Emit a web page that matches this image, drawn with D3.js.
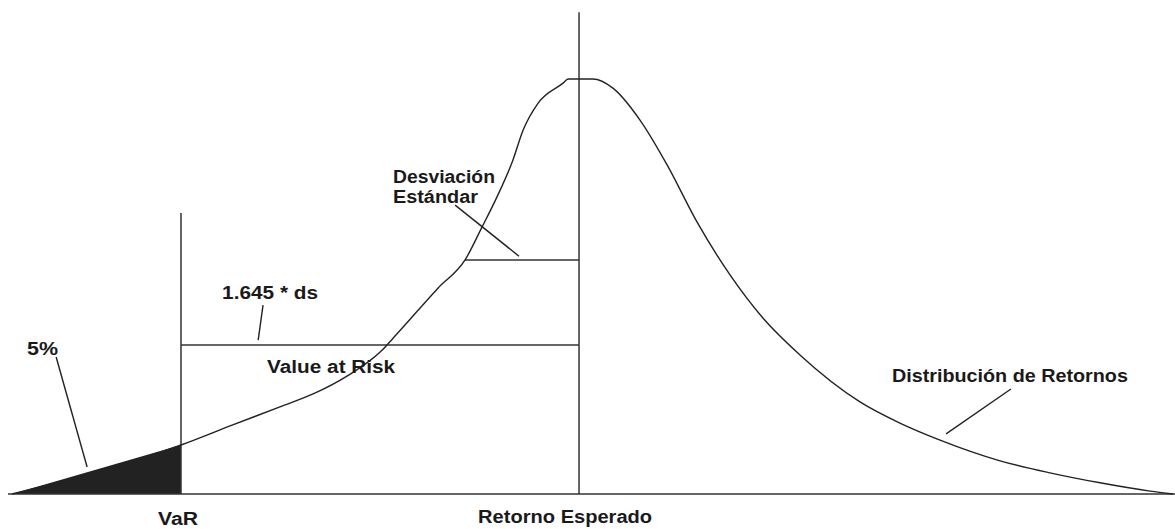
<!DOCTYPE html>
<meta charset="utf-8">
<script src="https://cdn.jsdelivr.net/npm/d3@7/dist/d3.min.js"></script>
<style>
body { margin: 0; background: #fff; }
svg { display: block; }
.curve { fill: none; stroke: #222; stroke-width: 1.4; }
.guide { stroke: #333; stroke-width: 1.5; }
.leader { stroke: #222; stroke-width: 1.4; }
.tail { fill: #222; stroke: none; }
text { font-family: "Liberation Sans", Arial, sans-serif; font-weight: bold; font-size: 18px; fill: #1a1a1a; }
</style>
<svg width="1175" height="529"></svg>
<script>

// retornos (en unidades de la figura, media = 0) y densidad (pico = 1)
var retorno = [-2.343, -1.645, -1.442, -1.236, -1.099, -0.959, -0.822, -0.752, -0.583, -0.471,
    -0.401, -0.339, -0.273, -0.231, -0.169, -0.066, -0.045, 0.058, 0.140, 0.252,
    0.364, 0.488, 0.624, 0.760, 0.913, 1.161, 1.326, 1.492, 1.740, 1.946,
    2.153, 2.360, 2.455];
var densidad = [0, 0.118, 0.164, 0.210, 0.241, 0.284, 0.342, 0.386, 0.496, 0.564,
    0.643, 0.716, 0.805, 0.877, 0.942, 0.990, 1.0, 1.0, 0.978, 0.901,
    0.793, 0.655, 0.528, 0.424, 0.335, 0.222, 0.171, 0.130, 0.080, 0.051,
    0.027, 0.007, 0];

var media = 0;
var valorVaR = -1.645;
var nivelDesv = 0.564;   // altura de la linea de desviacion
var nivelVaR = 0.359;    // altura de la linea Value at Risk
var desvIzq = -0.471;
var topeMedia = 1.161;
var topeVaR = 0.677;
var ejeX = [-2.36, 2.463];

var svg = d3.select("svg"),
    width = +svg.attr("width"),
    height = +svg.attr("height");

var x = d3.scaleLinear().domain([-2.393, 2.463]).range([0, 1175]);
var y = d3.scaleLinear().domain([0, 1]).range([494, 79]);

var pts = retorno.map(function(r, i) { return {x: r, y: densidad[i]}; });

// cola del 5%
var cola = pts.filter(function(d) { return d.x <= valorVaR; });
svg.append("path")
    .attr("class", "tail")
    .attr("d", d3.area()
        .x(function(d) { return x(d.x); })
        .y0(y(0))
        .y1(function(d) { return y(d.y); })(cola));

// eje base
svg.append("line").attr("class", "guide")
    .attr("x1", x(ejeX[0])).attr("x2", x(ejeX[1]))
    .attr("y1", y(0)).attr("y2", y(0));

// linea de la media
svg.append("line").attr("class", "guide")
    .attr("x1", x(media)).attr("x2", x(media))
    .attr("y1", y(0)).attr("y2", y(topeMedia));

// linea del VaR
svg.append("line").attr("class", "guide")
    .attr("x1", x(valorVaR)).attr("x2", x(valorVaR))
    .attr("y1", y(0)).attr("y2", y(topeVaR));

// horizontales
svg.append("line").attr("class", "guide")
    .attr("x1", x(valorVaR)).attr("x2", x(media))
    .attr("y1", y(nivelVaR)).attr("y2", y(nivelVaR));
svg.append("line").attr("class", "guide")
    .attr("x1", x(desvIzq)).attr("x2", x(media))
    .attr("y1", y(nivelDesv)).attr("y2", y(nivelDesv));

// distribucion
svg.append("path")
    .attr("class", "curve")
    .attr("d", d3.line()
        .x(function(d) { return x(d.x); })
        .y(function(d) { return y(d.y); })
        .curve(d3.curveMonotoneX)(pts));

// etiquetas: texto, x, y (base), ancho
var etiquetas = [
    ["5%", -2.281, 0.335, 31],
    ["1.645 * ds", -1.475, 0.470, 96],
    ["Value at Risk", -1.289, 0.292, 128],
    ["Desviación", -0.769, 0.750, 102],
    ["Estándar", -0.769, 0.701, 85],
    ["Distribución de Retornos", 1.293, 0.270, 236],
    ["Retorno Esperado", -0.417, -0.070, 174],
    ["VaR", -1.740, -0.075, 40]
];

svg.append("g").selectAll("text")
    .data(etiquetas)
    .enter().append("text")
    .attr("x", function(d) { return x(d[1]); })
    .attr("y", function(d) { return y(d[2]); })
    .attr("textLength", function(d) { return d[3]; })
    .attr("lengthAdjust", "spacingAndGlyphs")
    .text(function(d) { return d[0]; });

// lineas guia de las etiquetas
var guias = [
    [-2.161, 0.330, -2.033, 0.065],
    [-1.306, 0.455, -1.326, 0.371],
    [-0.512, 0.696, -0.248, 0.573],
    [1.785, 0.253, 1.517, 0.145]
];

svg.append("g").selectAll("line")
    .data(guias)
    .enter().append("line")
    .attr("class", "leader")
    .attr("x1", function(d) { return x(d[0]); })
    .attr("y1", function(d) { return y(d[1]); })
    .attr("x2", function(d) { return x(d[2]); })
    .attr("y2", function(d) { return y(d[3]); });

</script>
